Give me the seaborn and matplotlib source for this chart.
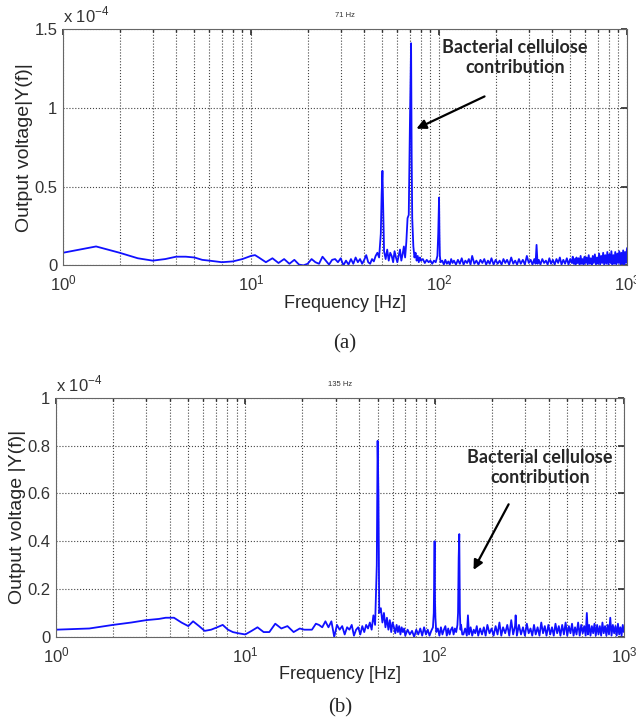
import numpy as np
import pandas as pd
import matplotlib
matplotlib.use("Agg")
import matplotlib.pyplot as plt
import seaborn as sns

# ---- panel (a): spectrum values, units of 1e-4 ----
top_freq_low = [1, 1.5, 2, 2.5, 3, 3.5, 4, 4.5, 5, 5.5,
                6, 7, 8, 9, 10, 10.5, 11, 12, 13, 14,
                15, 16, 17, 18, 19, 20, 21, 22, 23, 24,
                25, 26, 27, 28, 29, 30, 31, 32, 33, 34,
                35, 36, 37, 38, 39, 40, 41, 42, 43, 44,
                45, 46, 47, 48, 49, 49.5, 50, 50.5, 51, 52,
                53, 54, 55, 56, 57, 58, 59, 60, 61, 62,
                63, 64, 65, 66, 67, 68, 69, 70, 71, 71.5,
                72, 73, 74, 75, 76, 77, 78, 79, 80, 82,
                84, 86, 88, 90, 92, 94, 96, 98, 99, 100,
                100.5, 101, 102]
top_amp_low = [0.08, 0.12, 0.08, 0.045, 0.03, 0.04, 0.055, 0.055, 0.05, 0.035,
               0.03, 0.02, 0.025, 0.04, 0.06, 0.065, 0.05, 0.02, 0.045, 0.015,
               0.04, 0.01, 0.035, 0.005, 0.0, 0.01, 0.04, 0.02, 0.01, 0.055,
               0.03, 0.005, 0.035, 0.04, 0.02, 0.045, 0.0, 0.03, 0.005, 0.04,
               0.01, 0.05, 0.02, 0.04, 0.01, 0.035, 0.065, 0.02, 0.01, 0.04,
               0.025, 0.06, 0.08, 0.05, 0.2, 0.45, 0.6, 0.35, 0.09, 0.04,
               0.1, 0.03, 0.08, 0.06, 0.02, 0.09, 0.05, 0.02, 0.06, 0.1,
               0.03, 0.07, 0.12, 0.05, 0.15, 0.3, 0.32, 0.9, 1.41, 0.7,
               0.3, 0.12, 0.05, 0.08, 0.03, 0.06, 0.02, 0.05, 0.03, 0.04,
               0.015, 0.035, 0.02, 0.03, 0.01, 0.03, 0.02, 0.06, 0.2, 0.43,
               0.2, 0.06, 0.02]
top_freq_high = [104, 106, 108, 110, 112, 114, 116, 118, 120, 123,
                 126, 129, 132, 135, 138, 141, 144, 147, 150, 154,
                 158, 162, 166, 170, 174, 178, 182, 186, 190, 195,
                 200, 205, 210, 215, 220, 225, 230, 236, 242, 248,
                 254, 260, 266, 272, 279, 286, 293, 300, 307, 314,
                 321, 326, 330, 334, 339, 346, 354, 362, 370, 378,
                 386, 394, 403, 412, 421, 430, 439, 448, 458, 468,
                 478, 488, 498, 508, 514, 520, 526, 532, 538, 545,
                 552, 559, 566, 573, 580, 587, 594, 601, 609, 617,
                 625, 633, 641, 649, 657, 665, 674, 683, 692, 701,
                 710, 719, 728, 737, 746, 755, 765, 775, 785, 795,
                 805, 815, 825, 835, 845, 855, 865, 876, 887, 898,
                 909, 920, 931, 942, 953, 964, 975, 986, 997, 1000]
top_amp_high = [0.03, 0.005, 0.035, 0.01, 0.025, 0.005, 0.04, 0.015, 0.03, 0.005,
                0.035, 0.01, 0.045, 0.005, 0.03, 0.015, 0.04, 0.005, 0.06, 0.01,
                0.03, 0.005, 0.035, 0.015, 0.04, 0.005, 0.03, 0.01, 0.045, 0.005,
                0.035, 0.01, 0.03, 0.005, 0.04, 0.015, 0.035, 0.005, 0.05, 0.01,
                0.03, 0.005, 0.04, 0.01, 0.035, 0.005, 0.06, 0.015, 0.035, 0.005,
                0.04, 0.01, 0.13, 0.01, 0.035, 0.005, 0.04, 0.015, 0.03, 0.005,
                0.045, 0.01, 0.035, 0.005, 0.04, 0.015, 0.05, 0.005, 0.035, 0.01,
                0.045, 0.005, 0.04, 0.015, 0.055, 0.01, 0.04, 0.005, 0.05, 0.015,
                0.045, 0.005, 0.06, 0.01, 0.04, 0.005, 0.055, 0.015, 0.05, 0.005,
                0.065, 0.01, 0.045, 0.005, 0.06, 0.015, 0.07, 0.005, 0.05, 0.01,
                0.075, 0.005, 0.06, 0.015, 0.08, 0.005, 0.065, 0.01, 0.085, 0.005,
                0.07, 0.015, 0.09, 0.005, 0.065, 0.01, 0.085, 0.005, 0.075, 0.015,
                0.09, 0.005, 0.08, 0.01, 0.095, 0.005, 0.085, 0.015, 0.1, 0.11]

# ---- panel (b) ----
bot_freq_low = [1, 1.5, 2, 2.5, 3, 3.5, 3.8, 4.2, 4.6, 5,
                5.3, 5.7, 6.1, 6.6, 7.1, 7.6, 8.1, 8.6, 9.2, 10,
                10.8, 11.6, 12.5, 13.4, 14.4, 15.5, 16.7, 18, 19.4, 20.5,
                21.5, 22.5, 23.6, 24.5, 25.5, 26.5, 27.5, 28.5, 29.5, 30.5,
                31.5, 32.5, 33.5, 34.5, 35.5, 36.5, 37.5, 38.5, 39.5, 40.5,
                41.5, 42.5, 43.5, 44.5, 45.5, 46.5, 47.5, 48.5, 49.5, 50,
                50.5, 51, 52, 53, 54, 55, 56, 57, 58, 59,
                60, 61, 62, 63, 64, 65, 66, 67, 68, 69,
                70, 72, 74, 76, 78, 80, 82, 84, 86, 88,
                90, 92, 94, 96, 98, 99, 100, 100.5, 101, 102,
                104, 106, 108, 110, 112, 114, 116, 118, 120, 122,
                124, 126, 128, 130, 132, 133, 134, 135, 136, 137,
                138, 140]
bot_amp_low = [0.03, 0.035, 0.05, 0.06, 0.07, 0.075, 0.08, 0.08, 0.06, 0.045,
               0.065, 0.045, 0.025, 0.03, 0.04, 0.05, 0.03, 0.02, 0.015, 0.01,
               0.025, 0.04, 0.02, 0.02, 0.055, 0.035, 0.045, 0.02, 0.035, 0.03,
               0.03, 0.03, 0.055, 0.05, 0.04, 0.065, 0.04, 0.065, 0.0, 0.05,
               0.03, 0.045, 0.01, 0.04, 0.03, 0.05, 0.005, 0.03, 0.04, 0.01,
               0.045, 0.02, 0.05, 0.035, 0.06, 0.03, 0.09, 0.05, 0.3, 0.82,
               0.6, 0.1, 0.12, 0.06, 0.1, 0.04, 0.08, 0.03, 0.07, 0.02,
               0.06, 0.04, 0.015, 0.05, 0.02, 0.045, 0.01, 0.04, 0.02, 0.035,
               0.005, 0.03, 0.01, 0.025, 0.0, 0.03, 0.01, 0.035, 0.005, 0.04,
               0.01, 0.03, 0.005, 0.025, 0.04, 0.1, 0.4, 0.15, 0.08, 0.02,
               0.035, 0.005, 0.04, 0.01, 0.03, 0.045, 0.005, 0.035, 0.01, 0.03,
               0.04, 0.01, 0.035, 0.02, 0.05, 0.1, 0.33, 0.43, 0.1, 0.03,
               0.05, 0.01]
bot_freq_high = [142, 145, 148, 150, 152, 155, 158, 161, 164, 167,
                 170, 174, 178, 182, 186, 190, 195, 200, 205, 210,
                 215, 220, 225, 230, 236, 242, 248, 254, 260, 266,
                 268, 272, 279, 286, 293, 300, 307, 314, 321, 328,
                 335, 342, 350, 358, 366, 374, 382, 390, 399, 408,
                 417, 426, 435, 444, 453, 462, 472, 482, 492, 502,
                 512, 522, 532, 542, 552, 562, 573, 584, 595, 606,
                 617, 628, 637, 645, 655, 666, 677, 688, 699, 710,
                 722, 734, 746, 758, 770, 782, 795, 808, 821, 834,
                 847, 860, 874, 888, 902, 916, 930, 944, 958, 972,
                 986, 1000]
bot_amp_high = [0.01, 0.035, 0.005, 0.09, 0.01, 0.04, 0.005, 0.03, 0.015, 0.045,
                0.005, 0.035, 0.01, 0.04, 0.005, 0.05, 0.015, 0.035, 0.005, 0.045,
                0.01, 0.06, 0.005, 0.04, 0.015, 0.05, 0.005, 0.07, 0.01, 0.045,
                0.09, 0.005, 0.05, 0.01, 0.04, 0.005, 0.055, 0.015, 0.035, 0.005,
                0.05, 0.01, 0.04, 0.005, 0.06, 0.015, 0.045, 0.005, 0.05, 0.01,
                0.04, 0.005, 0.055, 0.015, 0.045, 0.005, 0.05, 0.01, 0.06, 0.005,
                0.045, 0.015, 0.055, 0.005, 0.04, 0.01, 0.06, 0.005, 0.05, 0.015,
                0.045, 0.005, 0.1, 0.01, 0.05, 0.005, 0.045, 0.015, 0.055, 0.005,
                0.05, 0.01, 0.045, 0.005, 0.06, 0.015, 0.045, 0.005, 0.05, 0.01,
                0.08, 0.005, 0.05, 0.015, 0.045, 0.005, 0.055, 0.01, 0.04, 0.005,
                0.05, 0.02]

top_yticks = [0, 0.5, 1, 1.5]
top_yticklabels = ["0", "0.5", "1", "1.5"]
bot_yticks = [0, 0.2, 0.4, 0.6, 0.8, 1]
bot_yticklabels = ["0", "0.2", "0.4", "0.6", "0.8", "1"]

sns.set_theme(style="white")
plt.rcParams['font.family'] = ['Liberation Sans', 'DejaVu Sans']
plt.rcParams['mathtext.fontset'] = 'custom'
plt.rcParams['mathtext.rm'] = 'Liberation Sans'

fig = plt.figure(figsize=(6.36, 7.27), dpi=100)
ax1 = fig.add_axes([0.099, 0.635, 0.887, 0.325])
ax2 = fig.add_axes([0.088, 0.124, 0.893, 0.3287])


def draw_panel(ax, freq, amp, yticks, yticklabels, ylim, ylabel, peak_label):
    df = pd.DataFrame({"freq": freq, "amp": amp})
    sns.lineplot(data=df, x="freq", y="amp", ax=ax, color="#1010ff",
                 linewidth=1.3, estimator=None, sort=False)
    ax.set_xscale("log")
    ax.set_xlim(1, 1000)
    ax.set_ylim(*ylim)
    ax.set_yticks(yticks)
    ax.set_yticklabels(yticklabels)
    ax.grid(True, which="both", axis="x", linestyle=":", color="#444444", linewidth=0.8)
    ax.grid(True, which="major", axis="y", linestyle=":", color="#444444", linewidth=0.8)
    ax.tick_params(which="both", direction="in", top=True, right=True,
                   labelsize=12, colors="#333333", length=4)
    ax.tick_params(which="minor", length=2)
    ax.tick_params(axis="x", pad=6)
    ax.tick_params(axis="y", pad=4)
    for s in ax.spines.values():
        s.set_color("#666666")
        s.set_linewidth(0.8)
    ax.set_xlabel("Frequency [Hz]", fontsize=13, labelpad=1)
    ax.set_ylabel(ylabel, fontsize=14, labelpad=1)
    ax.text(0.0, 1.015, "x 10$^{-4}$", transform=ax.transAxes, fontsize=12,
            color="#333333", ha="left", va="bottom")
    ax.text(0.5, 1.058, peak_label, transform=ax.transAxes, fontsize=5.5,
            color="#333333", ha="center", va="center")


draw_panel(ax1, top_freq_low + top_freq_high, top_amp_low + top_amp_high,
           top_yticks, top_yticklabels, (0, 1.5), "Output voltage|Y(f)|", "71 Hz")
draw_panel(ax2, bot_freq_low + bot_freq_high, bot_amp_low + bot_amp_high,
           bot_yticks, bot_yticklabels, (0, 1), "Output voltage |Y(f)|", "135 Hz")

ax1.annotate("", xy=(73.5, 0.86), xytext=(180, 1.08),
             arrowprops=dict(arrowstyle="-|>", color="black", lw=1.6, mutation_scale=14))
ax1.text(254, 1.32, "Bacterial cellulose\ncontribution", fontsize=13,
         fontweight="bold", family=["Lato", "DejaVu Sans"], ha="center", va="center",
         linespacing=1.2)

ax2.annotate("", xy=(158, 0.27), xytext=(250, 0.565),
             arrowprops=dict(arrowstyle="-|>", color="black", lw=1.6, mutation_scale=14))
ax2.text(360, 0.71, "Bacterial cellulose\ncontribution", fontsize=13,
         fontweight="bold", family=["Lato", "DejaVu Sans"], ha="center", va="center",
         linespacing=1.2)

fig.text(345 / 636, 1 - 344 / 727, "(a)", fontsize=15, family=["Liberation Serif"],
         ha="center", va="center")
fig.text(340 / 636, 1 - 708 / 727, "(b)", fontsize=15, family=["Liberation Serif"],
         ha="center", va="center")

fig.savefig("out.png", dpi=100)
